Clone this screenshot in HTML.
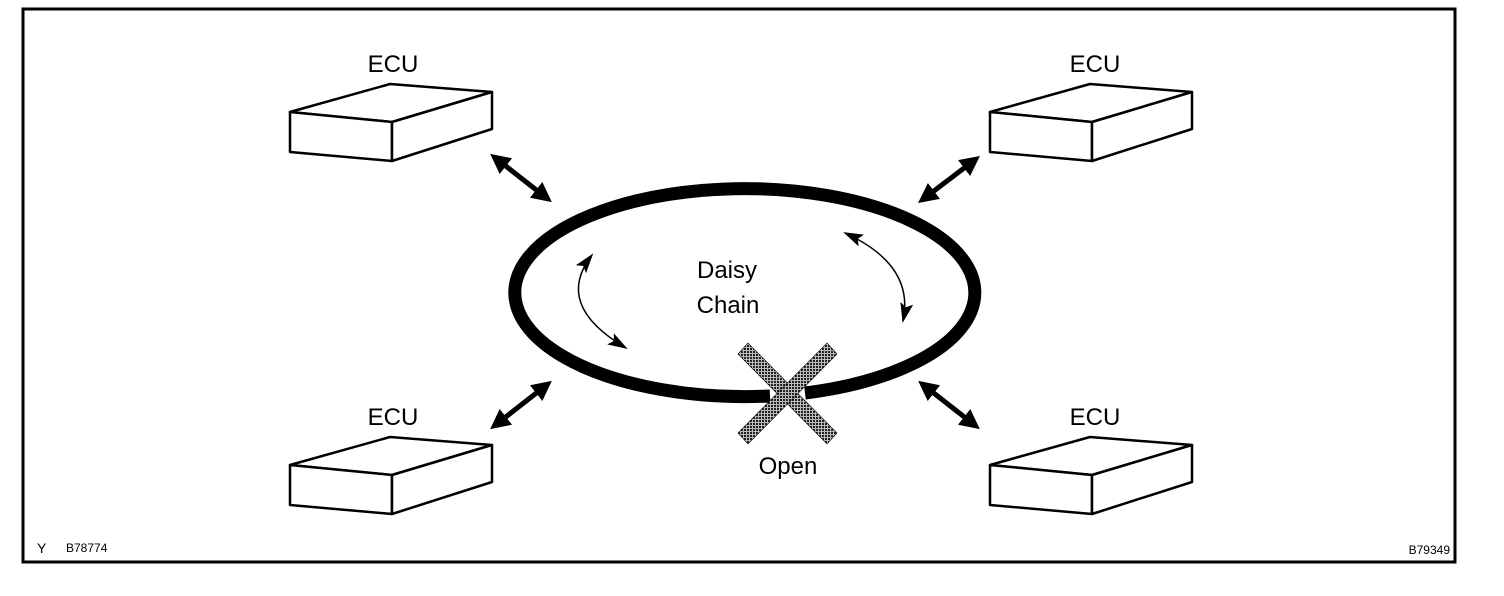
<!DOCTYPE html>
<html><head><style>
html,body{margin:0;padding:0;background:#fff;}
svg{display:block;}
text{font-family:"Liberation Sans",sans-serif;fill:#000;}
</style></head><body>
<svg width="1504" height="596" viewBox="0 0 1504 596" xmlns="http://www.w3.org/2000/svg">
<defs>
<pattern id="dots" width="3" height="3" patternUnits="userSpaceOnUse">
<rect width="3" height="3" fill="#bbb"/><rect width="2" height="2" fill="#222"/>
</pattern>
<marker id="ah" markerWidth="4" markerHeight="4" refX="2" refY="2" orient="auto-start-reverse" markerUnits="strokeWidth">
<path d="M0,0 L4,2 L0,4 Z" fill="#000"/>
</marker>
<marker id="sh" markerWidth="20" markerHeight="13" refX="18" refY="6.5" orient="auto-start-reverse" markerUnits="userSpaceOnUse">
<path d="M0,0 L20,6.5 L0,13 L4,6.5 Z" fill="#000"/>
</marker>
<g id="box" fill="#fff" stroke="#000" stroke-width="2.5" stroke-linejoin="round">
<path d="M290,112 L390,84 L492,92 L392,122 Z"/>
<path d="M290,112 L392,122 L392,161 L290,152 Z"/>
<path d="M392,122 L492,92 L492,129 L392,161 Z"/>
</g>
</defs>
<rect x="23" y="9" width="1432" height="553" fill="none" stroke="#000" stroke-width="3"/>

<use href="#box"/>
<use href="#box" transform="translate(700,0)"/>
<use href="#box" transform="translate(0,353)"/>
<use href="#box" transform="translate(700,353)"/>
<text x="393" y="72" font-size="24" text-anchor="middle">ECU</text>
<text x="1095" y="72" font-size="24" text-anchor="middle">ECU</text>
<text x="393" y="425" font-size="24" text-anchor="middle">ECU</text>
<text x="1095" y="425" font-size="24" text-anchor="middle">ECU</text>

<path d="M770,396 A230,104 0 1 1 805,393" fill="none" stroke="#000" stroke-width="13"/>

<g stroke="#000" stroke-width="5">
<line x1="498" y1="160" x2="544" y2="196" marker-start="url(#ah)" marker-end="url(#ah)"/>
<line x1="972" y1="162" x2="926" y2="197" marker-start="url(#ah)" marker-end="url(#ah)"/>
<line x1="544" y1="387" x2="498" y2="423" marker-start="url(#ah)" marker-end="url(#ah)"/>
<line x1="926" y1="387" x2="972" y2="423" marker-start="url(#ah)" marker-end="url(#ah)"/>
</g>

<path d="M592,255 Q553,305 626,348" fill="none" stroke="#000" stroke-width="1.5" marker-start="url(#sh)" marker-end="url(#sh)"/>
<path d="M845,233 Q915,265 903,321" fill="none" stroke="#000" stroke-width="1.5" marker-start="url(#sh)" marker-end="url(#sh)"/>

<text x="727" y="278" font-size="24" text-anchor="middle">Daisy</text>
<text x="728" y="313" font-size="24" text-anchor="middle">Chain</text>

<g stroke="#000" stroke-width="0.6" fill="url(#dots)">
<polygon points="738,354 748,343 837,433 827,444"/>
<polygon points="827,343 837,354 748,444 738,433"/>
</g>
<text x="788" y="474" font-size="24" text-anchor="middle">Open</text>

<text x="37" y="553" font-size="14">Y</text>
<text x="66" y="552" font-size="12">B78774</text>
<text x="1450" y="554" font-size="12" text-anchor="end">B79349</text>
</svg>
</body></html>
